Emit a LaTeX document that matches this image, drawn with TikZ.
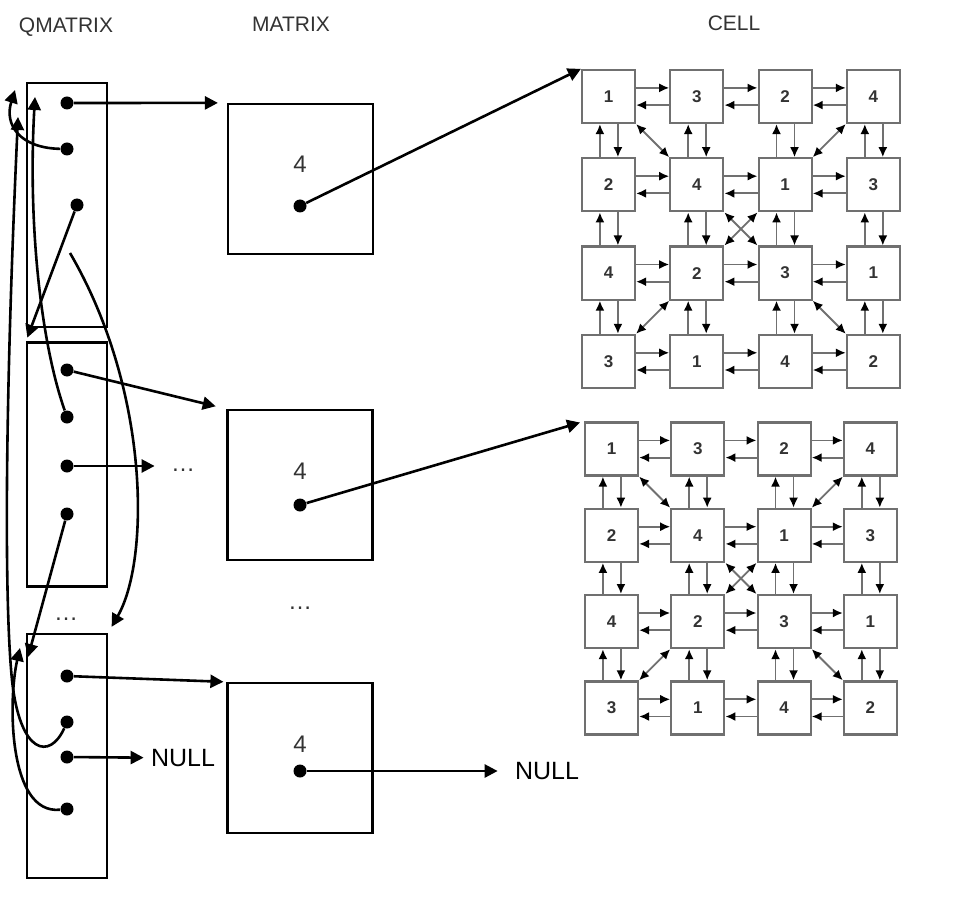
\documentclass[tikz,border=0pt]{standalone}
\usepackage{fontspec}
\setmainfont{Liberation Sans}
\usetikzlibrary{positioning,arrows.meta}
\definecolor{cgray}{HTML}{707070}
\tikzset{
  heading/.style={font=\fontsize{10.5}{12}\selectfont, text=black!80, anchor=base},
  qbox/.style={draw, line width=1.1pt, minimum width=40pt, minimum height=122pt, inner sep=0pt},
  mbox/.style={draw, line width=1.1pt, minimum width=72.5pt, minimum height=75pt, inner sep=0pt},
  ptrdot/.style={circle, fill, inner sep=0pt, minimum size=6.5pt},
  ptr/.style={-{Triangle[length=6.5pt,width=6.5pt]}, line width=1.3pt},
  valtext/.style={font=\fontsize{12}{14}\selectfont, text=black!80, anchor=base, inner sep=0pt},
  nulltag/.style={font=\fontsize{12.5}{14}\selectfont, inner sep=0pt},
  cellbox/.style={draw=cgray, line width=1.1pt, minimum size=26.5pt, inner sep=0pt,
    font=\fontsize{8.5}{9}\selectfont\bfseries, text=black!80},
  celllink/.style={draw=cgray, line width=0.9pt, -{Latex[length=5pt,width=4.5pt,color=black]}},
  cellboth/.style={draw=cgray, line width=0.9pt,
    {Latex[length=5pt,width=4.5pt,color=black]}-{Latex[length=5pt,width=4.5pt,color=black]}}
}

\begin{document}
\begin{tikzpicture}[x=0.5pt, y=-0.5pt]
  \useasboundingbox (0,0) rectangle (961,903);

  % headings
  \node[heading] (hq) at (66,33) {QMATRIX};
  \node[heading] (hm) at (291,32) {MATRIX};
  \node[heading] (hc) at (734,31) {CELL};

  % qmatrix column
  \node[qbox] (q1) at (67,205) {};
  \node[qbox] (q2) at (67,464.5) {};
  \node[qbox] (q3) at (67,756) {};
  \node[ptrdot] (q1a) at (67,103) {};
  \node[ptrdot] (q1b) at (67,149) {};
  \node[ptrdot] (q1c) at (77,205) {};
  \node[ptrdot] (q2a) at (67,370) {};
  \node[ptrdot] (q2b) at (67,417) {};
  \node[ptrdot] (q2c) at (67,466) {};
  \node[ptrdot] (q2d) at (67,514) {};
  \node[ptrdot] (q3a) at (67,676) {};
  \node[ptrdot] (q3b) at (67,722) {};
  \node[ptrdot] (q3c) at (67,757) {};
  \node[ptrdot] (q3d) at (67,809) {};
  \node[valtext] (dq) at (66,620) {\dots};
  \node[valtext] (dq2) at (183,471) {\dots};
  \node[nulltag] (nulla) at (183,758) {NULL};

  % matrix column
  \node[mbox] (m1) at (300.5,179) {};
  \node[valtext] (v1) at (300,173) {4};
  \node[ptrdot] (m1d) at (300,206) {};
  \node[mbox] (m2) at (300,485) {};
  \node[valtext] (v2) at (300,479) {4};
  \node[ptrdot] (m2d) at (300,505) {};
  \node[valtext] (dm) at (300,609) {\dots};
  \node[mbox] (m3) at (300,758) {};
  \node[valtext] (v3) at (300,752) {4};
  \node[ptrdot] (m3d) at (300,771) {};
  \node[nulltag] (nullb) at (547,771) {NULL};

  % cell grids
  \foreach \g/\ox/\oy/\p in {a/608.5/96.5/88.3, b/611.5/449/86.3} {
    \foreach \r/\c/\v in {1/1/1,1/2/3,1/3/2,1/4/4, 2/1/2,2/2/4,2/3/1,2/4/3,
                          3/1/4,3/2/2,3/3/3,3/4/1, 4/1/3,4/2/1,4/3/4,4/4/2}
      \node[cellbox] (\g-\r-\c) at ({\ox+(\c-1)*\p},{\oy+(\r-1)*\p}) {\v};
    \foreach \i in {1,...,4}
      \foreach \j/\k in {1/2,2/3,3/4} {
        \draw[celllink] ([yshift=4.3pt]\g-\i-\j.east) -- ([yshift=4.3pt]\g-\i-\k.west);
        \draw[celllink] ([yshift=-4.3pt]\g-\i-\k.west) -- ([yshift=-4.3pt]\g-\i-\j.east);
        \draw[celllink] ([xshift=-4.3pt]\g-\k-\i.north) -- ([xshift=-4.3pt]\g-\j-\i.south);
        \draw[celllink] ([xshift=4.7pt]\g-\j-\i.south) -- ([xshift=4.7pt]\g-\k-\i.north);
      }
    \foreach \s/\t in {1-1.south east/2-2.north west, 1-4.south west/2-3.north east,
                       2-2.south east/3-3.north west, 2-3.south west/3-2.north east,
                       3-2.south west/4-1.north east, 3-3.south east/4-4.north west}
      \draw[cellboth] (\g-\s) -- (\g-\t);
  }

  % free ends of the list pointers
  \coordinate (q1in) at (15,90);
  \coordinate (q1back) at (35,97);
  \coordinate (q1up) at (18,117);
  \coordinate (q1tail) at (70,253);
  \coordinate (q3in) at (28,657);
  \coordinate (q3up) at (20,648);

  % pointers
  \draw[ptr, shorten >=4.5pt] (q1a) -- (m1.north west);
  \draw[ptr, shorten >=5.5pt] (q2a) -- (m2.north west);
  \draw[ptr, shorten >=1.5pt] (q3a) -- (m3.north west);
  \draw[ptr] (m1d) -- (a-1-1.north west);
  \draw[ptr, shorten >=2pt] (m2d) -- (b-1-1.north west);
  \draw[ptr, shorten >=8.5pt] (m3d) -- (nullb);
  \draw[ptr, shorten >=3.5pt] (q3c) -- (nulla);
  \draw[ptr, shorten >=8pt] (q2c) -- (q2c -| dq2.west);

  \draw[ptr] (q1b) .. controls (20,148) and (4,125) .. (q1in);
  \draw[ptr] (q2b) .. controls (40,340) and (28,220) .. (q1back);
  \draw[ptr, shorten >=2pt] (q1c) -- (q2.north west);
  \draw[ptr, shorten >=3.5pt] (q1tail) .. controls (150,390) and (150,560) .. (q3.north east);
  \draw[ptr] (q2d) -- (q3in);
  \draw[ptr] (q3b) .. controls (50,760) and (20,755) .. (12,680)
    .. controls (4,600) and (5,400) .. (q1up);
  \draw[ptr] (q3d) .. controls (8,815) and (8,700) .. (q3up);
\end{tikzpicture}
\end{document}
